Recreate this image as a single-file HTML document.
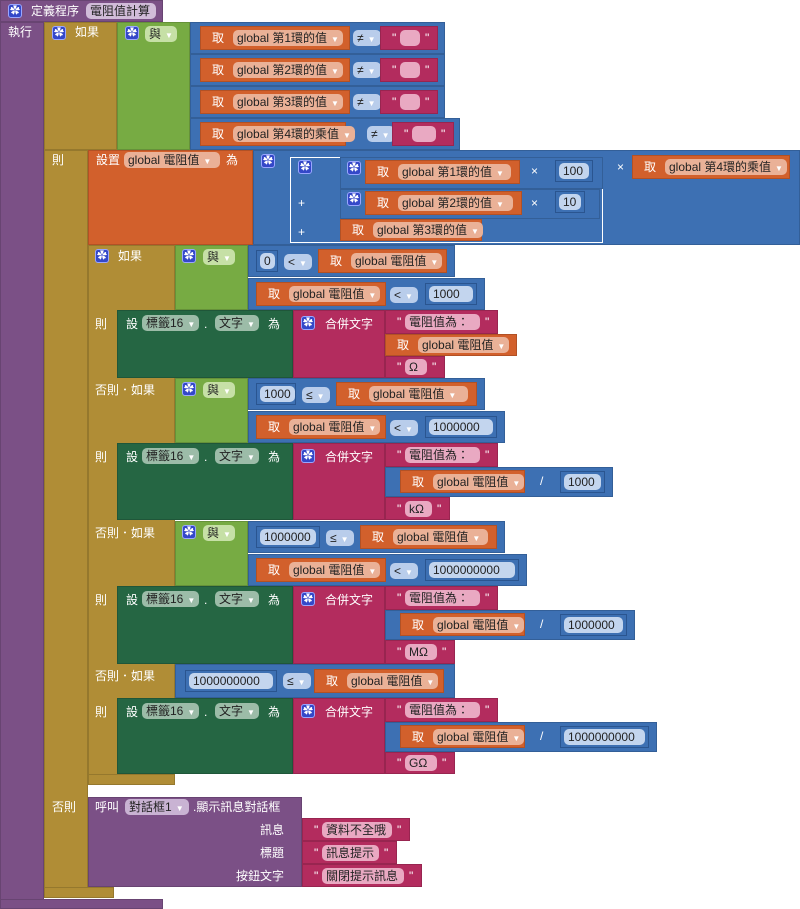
<!DOCTYPE html>
<html><head><meta charset="utf-8">
<style>
body{margin:0;width:800px;height:909px;background:#fff;position:relative;overflow:hidden;font-family:"Liberation Sans","Noto Sans CJK TC",sans-serif;font-size:12px}
.b{position:absolute;box-sizing:border-box}
.t{position:absolute;color:#fff;font-size:12px;line-height:14px;white-space:nowrap}
.p{position:absolute;height:16px;line-height:16px;border-radius:5px;color:#222;font-size:12px;padding:0 4px;box-sizing:border-box;white-space:nowrap}
.p .a{font-size:8px;color:#fff;margin-left:4px}
.gear{position:absolute;width:14px;height:14px;background:#3448c8;border:1px solid #9aa6ff;border-radius:3px;color:#fff;font-size:10px;line-height:14px;text-align:center;box-sizing:border-box}
</style></head><body>
<script>
const PU='#7b5086',GO='#b08d36',GR='#77ab43',BL='#3d70b3',OR='#d2602c',DG='#256643',MA='#b32c5e';
function mk(x,y,w,h,cls,name,inter,txt,bg){
  const el=document.createElement('div');
  el.className=cls;
  el.style.left=x+'px';el.style.top=y+'px';
  if(w)el.style.width=w+'px';
  if(h)el.style.height=h+'px';
  if(bg)el.style.background=bg;
  if(txt!==undefined)el.innerHTML=txt;
  
  
  document.body.appendChild(el);
  return el;
}
function blk(x,y,w,h,c,name){const e=mk(x,y,w,h,'b',name,'true','',c);e.style.border='1px solid rgba(0,0,0,0.15)';return e;}
function lab(x,y,s,name){return mk(x,y,0,0,'t',name,'false',s);}
function pill(x,y,w,s,bg,name,arrow){const e=mk(x,y,0,0,'p',name,'true',s+(arrow?'<span class="a">▼</span>':''),bg);e.style.minWidth=w+'px';return e;}
function gear(x,y,name){return mk(x,y,0,0,'gear',name,'true','✿');}
function get(x,y,w,h,s,name){blk(x,y,w,h,OR,name);lab(x+12,y+(h-14)/2,'取',name+'-label');pill(x+33,y+(h-16)/2,w-42,s,'#eab197',name+'-var',true);}
function num(x,y,w,s,name){const e=blk(x,y,w,22,BL,name);e.style.border='1px solid #2a5590';pill(x+4,y+3,w-8,s,'#c3d5ee',name+'-value',false);}
function str(x,y,w,h,s,name){blk(x,y,w,h,MA,name);lab(x+12,y+(h-14)/2,'"',name+'-q1');pill(x+20,y+(h-16)/2,w-38,s,'#e9a9c2',name+'-text',false);lab(x+w-13,y+(h-14)/2,'"',name+'-q2');}
function op(x,y,s,name){pill(x,y,28,s,'#b9cdeb',name,true);}

// procedure
blk(0,0,163,22,PU,'procedure-header');
blk(0,22,44,887,PU,'procedure-body');
blk(0,899,163,10,PU,'procedure-footer');
gear(8,4,'procedure-gear');
lab(31,4,'定義程序','define-procedure-label');
pill(86,3,70,'電阻值計算','#d1bcd9','procedure-name',false);
lab(8,25,'執行','do-label');

// outer if
blk(44,22,73,128,GO,'outer-if-header');
blk(44,150,44,748,GO,'outer-if-column');
blk(44,887,70,11,GO,'outer-if-footer');
gear(52,26,'outer-if-gear');
lab(75,25,'如果','if-label');
lab(52,153,'則','then-label');
lab(52,800,'否則','else-label');
blk(117,22,73,128,GR,'and-block');
gear(125,26,'and-gear');
pill(145,26,32,'與','#c6e0a6','and-op',true);
const conds=[['第1環的值',255],['第2環的值',255],['第3環的值',255],['第4環的乘值',270]];
conds.forEach((c,i)=>{const y=22+i*32;blk(190,y,c[1],32,BL,'condition-'+(i+1));
 get(200,y+4,c[1]==270?146:150,24,'global '+c[0],'get-ring'+(i+1));
 op(c[1]==270?367:353,y+8,'≠','neq-op-'+(i+1));
 str(c[1]==270?392:380,y+4,c[1]==270?62:58,24,'&nbsp;&nbsp;','empty-string-'+(i+1));});

// set resistance
blk(88,150,165,95,OR,'set-resistance');
lab(96,153,'設置','set-label');
pill(124,152,96,'global 電阻值','#eab197','set-var',true);
lab(226,153,'為','to-label');
blk(253,150,547,95,BL,'add-block');
gear(261,154,'add-gear');
const box=blk(290,157,313,86,BL,'multiply-group');box.style.border='1px solid #fff';
gear(298,160,'multiply-gear');
blk(340,157,263,32,BL,'multiply-1');gear(347,161,'mul1-gear');
get(365,160,155,24,'global 第1環的值','get-ring1-mul');
lab(531,164,'×','times-1');num(555,160,38,'100','num-100');
lab(617,160,'×','times-3');
get(632,155,158,24,'global 第4環的乘值','get-ring4-mul');
blk(340,189,260,30,BL,'multiply-2');gear(347,192,'mul2-gear');
get(365,191,157,24,'global 第2環的值','get-ring2-mul');
lab(531,196,'×','times-2');num(555,191,30,'10','num-10');
lab(298,196,'+','plus-1');lab(298,225,'+','plus-2');
get(340,219,142,22,'global 第3環的值','get-ring3-add');

// inner if
blk(88,245,87,540,GO,'inner-if');
blk(88,774,87,11,GO,'inner-if-footer');
gear(95,249,'inner-if-gear');lab(118,249,'如果','inner-if-label');
const hdrs=[[378,'否則．如果'],[521,'否則．如果'],[664,'否則．如果']];
hdrs.forEach((h,i)=>lab(95,h[0]+5,h[1],'else-if-label-'+(i+1)));
const lows=['0','1000','1000000'];const highs=['1000','1000000','1000000000'];
[245,378,521].forEach((y,i)=>{
 blk(175,y,73,65,GR,'and-block-'+(i+1));gear(182,y+4,'and-gear-'+(i+1));pill(203,y+4,32,'與','#c6e0a6','and-op-'+(i+1),true);
 const w1=[207,237,257][i],w2=[237,257,279][i];
 blk(248,y,w1,32,BL,'lower-compare-'+(i+1));
 const nw=[22,40,64][i];num(256,y+5,nw,lows[i],'lower-num-'+(i+1));
 op(262+nw,y+9,i==0?'<':'≤','lower-op-'+(i+1));
 get(296+nw,y+4,w1-56-nw,24,'global 電阻值','get-res-low-'+(i+1));
 blk(248,y+33,w2,32,BL,'upper-compare-'+(i+1));
 get(256,y+37,130,24,'global 電阻值','get-res-high-'+(i+1));
 op(390,y+42,'<','upper-op-'+(i+1));
 num(425,y+38,w2-185,highs[i],'upper-num-'+(i+1));
});
blk(175,664,280,34,BL,'compare-4');
num(185,670,92,'1000000000','lower-num-4');op(283,673,'≤','lower-op-4');
get(314,669,130,24,'global 電阻值','get-res-low-4');

// then branches
const thens=[[310,68,'Ω',null,60],[443,77,'kΩ','1000',65],[586,78,'MΩ','1000000',70],[698,76,'GΩ','1000000000',70]];
thens.forEach((t,i)=>{const y=t[0],h=t[1];
 lab(95,y+7,'則','then-label-'+(i+1));
 blk(117,y,176,h,DG,'set-label-text-'+(i+1));
 lab(126,y+7,'設','set-label-'+(i+1));
 pill(142,y+5,50,'標籤16','#9cbca8','label-component-'+(i+1),true);
 lab(204,y+7,'.','dot-'+(i+1));
 pill(215,y+5,44,'文字','#9cbca8','text-property-'+(i+1),true);
 lab(268,y+7,'為','to-label-'+(i+1));
 blk(293,y,92,h,MA,'join-'+(i+1));
 gear(301,y+6,'join-gear-'+(i+1));
 lab(325,y+7,'合併文字','join-label-'+(i+1));
 str(385,y,113,24,'電阻值為：','prefix-string-'+(i+1));
 if(!t[3]){get(385,y+24,132,22,'global 電阻值','get-res-out-1');}
 else{const w=[228,250,272][i-1];blk(385,y+24,w,30,BL,'divide-'+(i+1));
  get(400,y+27,125,23,'global 電阻值','get-res-out-'+(i+1));
  lab(540,y+31,'/','divide-op-'+(i+1));
  num(560,y+28,w-183,t[3],'divisor-'+(i+1));}
 const sy=t[3]?y+54:y+46;
 str(385,sy,t[4],h-(sy-y),t[2],'unit-string-'+(i+1));
});

// else call
blk(88,797,214,90,PU,'call-dialog');
lab(95,800,'呼叫','call-label');
pill(125,799,64,'對話框1','#c9b3d3','dialog-component',true);
lab(193,800,'.顯示訊息對話框','show-message-label');
lab(260,823,'訊息','message-label');lab(260,846,'標題','title-label');lab(236,869,'按鈕文字','button-text-label');
str(302,818,108,23,'資料不全哦','message-string');
str(302,841,95,23,'訊息提示','title-string');
str(302,864,120,23,'關閉提示訊息','button-string');
</script>
</body></html>
